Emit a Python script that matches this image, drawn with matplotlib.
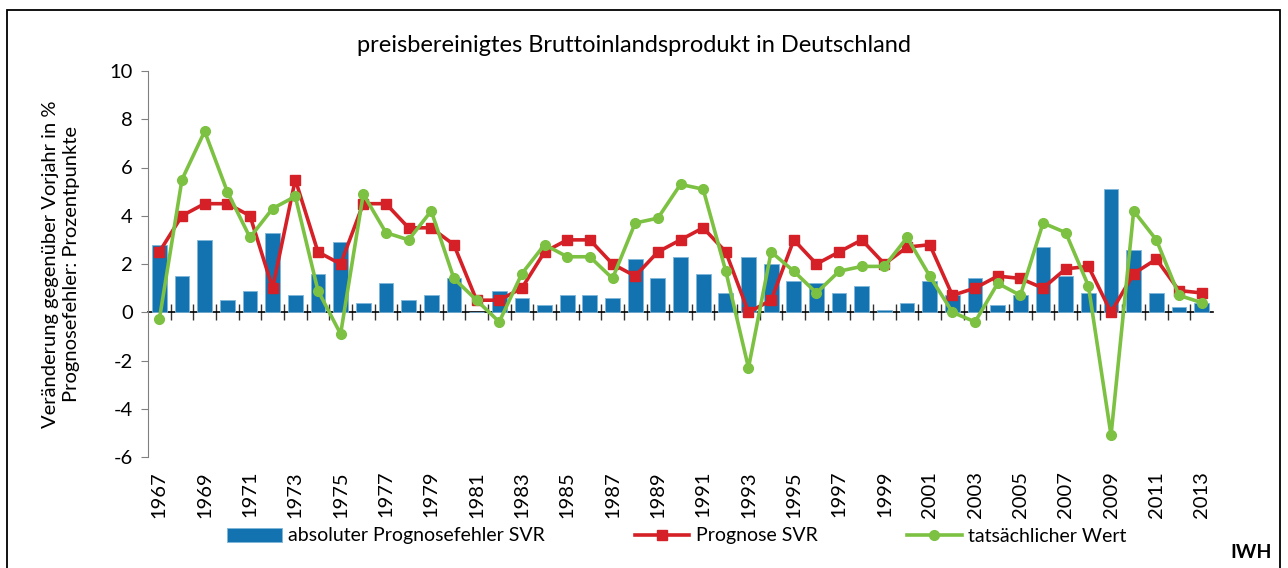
import matplotlib.pyplot as plt
from matplotlib.patches import Rectangle
import numpy as np

plt.rcParams['font.family'] = ['Lato', 'DejaVu Sans']
plt.rcParams['axes.unicode_minus'] = False

# data
years = list(range(1967, 2014))
fehler = [2.8, 1.5, 3.0, 0.5, 0.9, 3.3, 0.7, 1.6, 2.9, 0.4,
          1.2, 0.5, 0.7, 1.4, 0.0, 0.9, 0.6, 0.3, 0.7, 0.7,
          0.6, 2.2, 1.4, 2.3, 1.6, 0.8, 2.3, 2.0, 1.3, 1.2,
          0.8, 1.1, 0.1, 0.4, 1.3, 0.7, 1.4, 0.3, 0.7, 2.7,
          1.5, 0.8, 5.1, 2.6, 0.8, 0.2, 0.4]
prognose = [2.5, 4.0, 4.5, 4.5, 4.0, 1.0, 5.5, 2.5, 2.0, 4.5,
            4.5, 3.5, 3.5, 2.8, 0.5, 0.5, 1.0, 2.5, 3.0, 3.0,
            2.0, 1.5, 2.5, 3.0, 3.5, 2.5, 0.0, 0.5, 3.0, 2.0,
            2.5, 3.0, 2.0, 2.7, 2.8, 0.7, 1.0, 1.5, 1.4, 1.0,
            1.8, 1.9, 0.0, 1.6, 2.2, 0.9, 0.8]
ist = [-0.3, 5.5, 7.5, 5.0, 3.1, 4.3, 4.8, 0.9, -0.9, 4.9,
       3.3, 3.0, 4.2, 1.4, 0.5, -0.4, 1.6, 2.8, 2.3, 2.3,
       1.4, 3.7, 3.9, 5.3, 5.1, 1.7, -2.3, 2.5, 1.7, 0.8,
       1.7, 1.9, 1.9, 3.1, 1.5, 0.0, -0.4, 1.2, 0.7, 3.7,
       3.3, 1.1, -5.1, 4.2, 3.0, 0.7, 0.4]

blue = '#1273b0'
red = '#d42026'
green = '#7dc142'

W, H = 1288, 568
fig = plt.figure(figsize=(W / 100, H / 100), dpi=100)
ax = fig.add_axes([148 / W, 1 - 457 / H, (1213 - 148) / W, (457 - 71) / H])

x = np.arange(len(years))
bars = ax.bar(x, fehler, width=0.65, color=blue, edgecolor='#7fb6d9', linewidth=0.6,
              label='absoluter Prognosefehler SVR', zorder=2)
l1, = ax.plot(x, prognose, color=red, lw=2.6, marker='s', ms=7, label='Prognose SVR', zorder=3)
l2, = ax.plot(x, ist, color=green, lw=2.6, marker='o', ms=7, label='tatsächlicher Wert', zorder=4)

ax.set_xlim(-0.5, len(years) - 0.5)
ax.set_ylim(-6, 10)
ax.set_yticks(range(-6, 11, 2))
ax.tick_params(axis='y', labelsize=14.5, length=5, color='#808080', pad=6)
for s in ['top', 'right', 'bottom']:
    ax.spines[s].set_visible(False)
ax.spines['left'].set_color('#808080')

# year labels at the bottom, every second year
ax.set_xticks(x[::2])
ax.set_xticklabels([str(y) for y in years[::2]], rotation=90, fontsize=14.5)
ax.tick_params(axis='x', length=0, pad=10)

# zero line carrying the category tick marks
zero = ax.secondary_xaxis(6 / 16)
zero.set_xticks(np.arange(0.5, len(years) - 1, 1.0))
zero.set_xticklabels([])
zero.tick_params(axis='x', direction='inout', length=11, width=1, color='#333333')
zero.spines['bottom'].set_color('black')
zero.spines['bottom'].set_linewidth(1.2)

ax.set_ylabel('Veränderung gegenüber Vorjahr in %\nPrognosefehler: Prozentpunkte',
              fontsize=14.5, labelpad=21, linespacing=1.3)

fig.text(634 / W, 1 - 46 / H, 'preisbereinigtes Bruttoinlandsprodukt in Deutschland',
         ha='center', va='center', fontsize=17)

fig.legend([bars, l1, l2], [bars.get_label(), l1.get_label(), l2.get_label()],
           loc='center', bbox_to_anchor=(677 / W, 1 - 536 / H), ncol=3, frameon=False,
           fontsize=14, handlelength=2.8, columnspacing=4.6, handletextpad=0.35)

fig.text(1272 / W, 1 - 553 / H, 'IWH', ha='right', va='center', fontsize=14, fontweight='bold')

# outer frame
fig.patches.append(Rectangle((7 / W, -0.05), (1280 - 7) / W, (H - 10) / H + 0.05,
                             transform=fig.transFigure, fill=False, edgecolor='black',
                             linewidth=1.3))

fig.savefig('out.png', dpi=100)
